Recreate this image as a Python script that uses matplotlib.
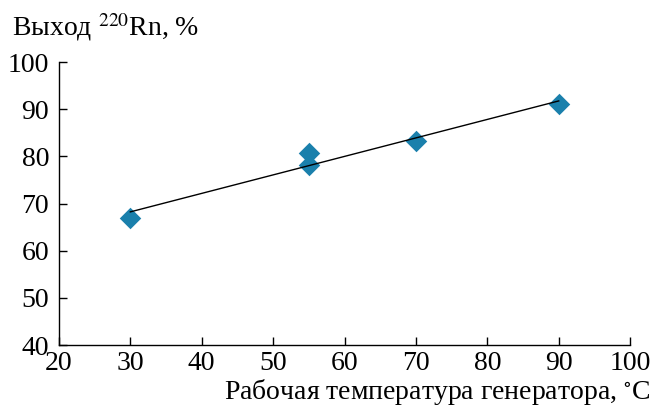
import numpy as np
import matplotlib
matplotlib.use("Agg")
import matplotlib.pyplot as plt

# data
temperature = [30, 55, 55, 70, 90]
radon_yield = [66.9, 80.7, 78.1, 83.2, 91.1]
x_ticks = [20, 30, 40, 50, 60, 70, 80, 90, 100]
y_ticks = [40, 50, 60, 70, 80, 90, 100]

plt.rcParams["font.family"] = ["Liberation Serif", "DejaVu Serif"]
plt.rcParams["mathtext.fontset"] = "stix"

fig = plt.figure(figsize=(6.55, 4.08), dpi=100)
ax = fig.add_axes([0.090, 0.154, 0.872, 0.694])

ax.scatter(temperature, radon_yield, marker="D", s=120, color="#1a80ac",
           linewidths=0, zorder=2)

# linear fit through the points
k, b = np.polyfit(temperature, radon_yield, 1)
fit_x = np.array([min(temperature), max(temperature)])
ax.plot(fit_x, k * fit_x + b, color="black", lw=1.0, zorder=3)

ax.set_xlim(20, 100)
ax.set_ylim(40, 100)
ax.set_xticks(x_ticks)
ax.set_yticks(y_ticks)
ax.spines["top"].set_visible(False)
ax.spines["right"].set_visible(False)
for s in ("left", "bottom"):
    ax.spines[s].set_linewidth(1.0)
ax.tick_params(direction="in", length=6, width=1.0, labelsize=20)
ax.tick_params(axis="y", pad=7)
ax.tick_params(axis="x", pad=4)

fig.text(0.018, 0.912, "Выход $^{220}$Rn, %", fontsize=20, ha="left",
         va="baseline")
fig.text(0.993, 0.022, "Рабочая температура генератора, $^{\\circ}$C",
         fontsize=20, ha="right", va="baseline")

fig.savefig("out.png", dpi=100)
